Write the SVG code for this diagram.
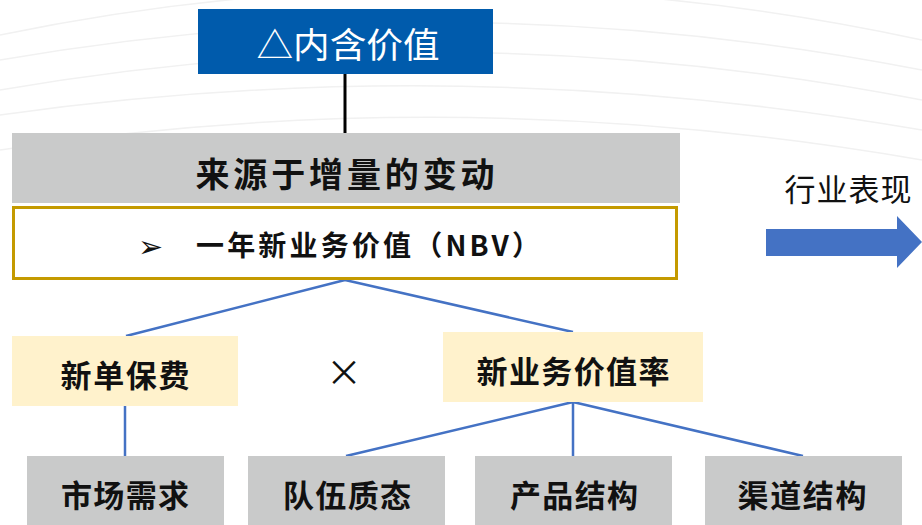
<svg xmlns="http://www.w3.org/2000/svg" width="922" height="525" viewBox="0 0 922 525">
<style>
text{font-family:"Noto Sans CJK SC","Noto Sans",sans-serif;text-anchor:middle;dominant-baseline:central}
.b{font-weight:bold;fill:#111}
.gray{fill:#C9CACA}
.yel{fill:#FFF2CC}
.con{stroke:#4472C4;stroke-width:2.5;fill:none}
.bg{stroke:#F1F1F1;stroke-width:1.5;fill:none}
</style>
<rect width="922" height="525" fill="#fff"/>
<g id="background">
<path class="bg" d="M0 35 Q460 -60 922 40"/>
<path class="bg" d="M0 60 Q460 -20 922 70"/>
<path class="bg" d="M0 90 Q460 10 922 100"/>
<path class="bg" d="M0 115 Q460 50 922 130"/>
<path class="bg" d="M0 150 Q460 80 922 160"/>
</g>
<g id="connectors">
<line x1="345" y1="74" x2="345" y2="133" stroke="#000" stroke-width="3"/>
<path class="con" d="M345 280 L126 336 M345 280 L573 332"/>
<path class="con" d="M125 406 L125 456"/>
<path class="con" d="M573 402 L346 456 M573 402 L573 456 M573 402 L803 456"/>
</g>
<g id="node-nev">
<rect x="198" y="9" width="295" height="65" fill="#005BAC"/>
<text x="348" y="42" font-size="35" fill="#fff" textLength="183" lengthAdjust="spacingAndGlyphs">△内含价值</text>
</g>
<g id="node-source">
<rect class="gray" x="12" y="133" width="668" height="70"/>
<text class="b" x="345" y="172" font-size="34" textLength="299">来源于增量的变动</text>
</g>
<g id="node-nbv">
<rect x="13.5" y="207.5" width="663" height="71" fill="#fff" stroke="#C49A00" stroke-width="3"/>
<text x="150" y="244" font-size="30" fill="#111" font-family="DejaVu Sans, sans-serif">➢</text>
<text class="b" x="196" y="244" font-size="28" style="text-anchor:start" textLength="344">一年新业务价值（NBV）</text>
</g>
<g id="node-premium">
<rect class="yel" x="12" y="336" width="226" height="70"/>
<text class="b" x="125" y="373" font-size="31" textLength="129">新单保费</text>
</g>
<text x="344" y="370" font-size="36" fill="#111" font-family="Liberation Sans, sans-serif">×</text>
<g id="node-margin">
<rect class="yel" x="443" y="332" width="260" height="70"/>
<text class="b" x="573" y="369" font-size="31" textLength="193">新业务价值率</text>
</g>
<g id="node-market">
<rect class="gray" x="27" y="456" width="197" height="69"/>
<text class="b" x="125" y="493" font-size="31" textLength="128">市场需求</text>
</g>
<g id="node-team">
<rect class="gray" x="248" y="456" width="197" height="69"/>
<text class="b" x="347" y="493" font-size="31" textLength="128">队伍质态</text>
</g>
<g id="node-product">
<rect class="gray" x="475" y="456" width="197" height="69"/>
<text class="b" x="574" y="493" font-size="31" textLength="128">产品结构</text>
</g>
<g id="node-channel">
<rect class="gray" x="705" y="456" width="197" height="69"/>
<text class="b" x="802" y="493" font-size="31" textLength="129">渠道结构</text>
</g>
<g id="industry">
<text x="848" y="187" font-size="31" fill="#111" textLength="127">行业表现</text>
<polygon points="766,229 897,229 897,216 922,242 897,268 897,256 766,256" fill="#4472C4"/>
</g>
</svg>
